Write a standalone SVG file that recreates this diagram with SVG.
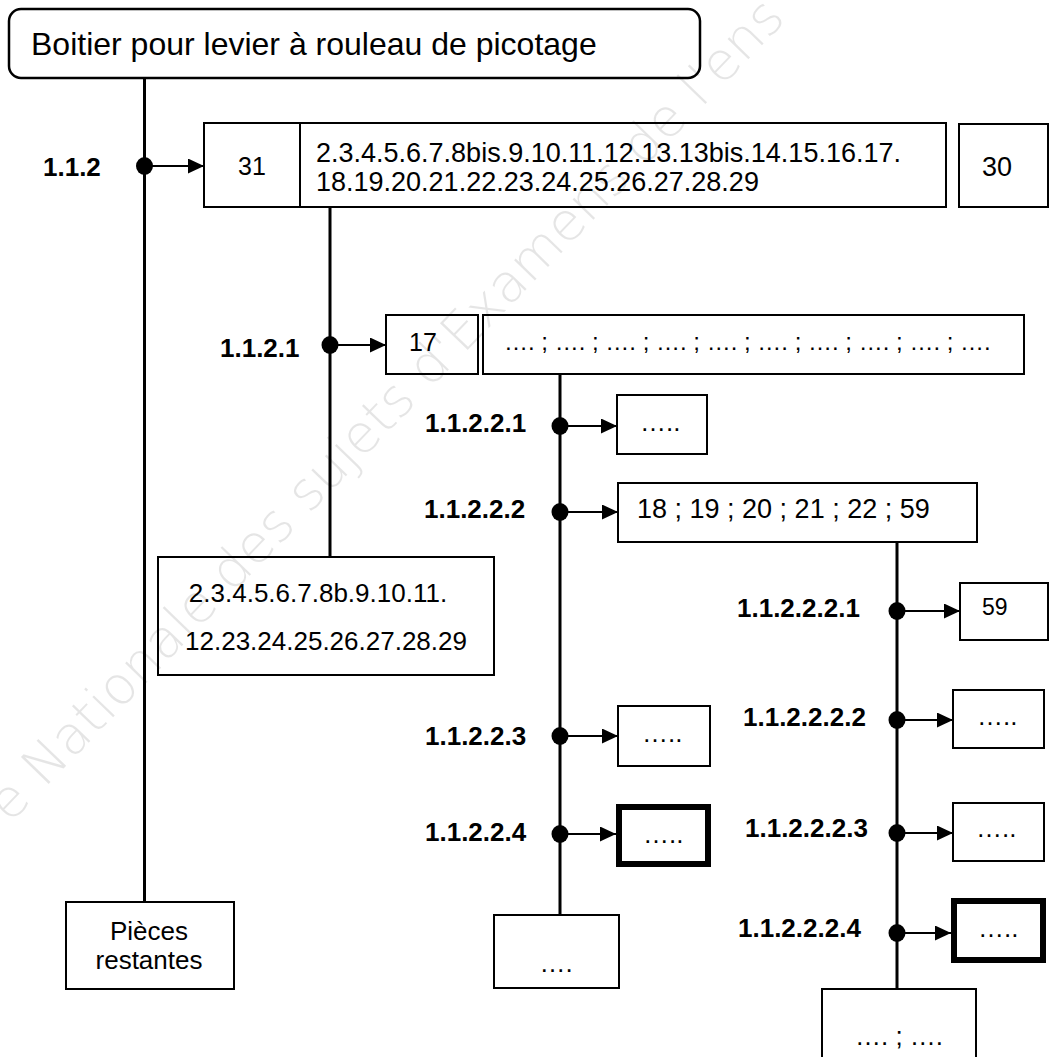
<svg xmlns="http://www.w3.org/2000/svg" width="1050" height="1057" viewBox="0 0 1050 1057">
<defs>
<marker id="ah" markerUnits="userSpaceOnUse" markerWidth="16" markerHeight="16" refX="16" refY="7.5" orient="auto">
<path d="M0,0 L16,7.5 L0,15 Z" fill="#000"/>
</marker>
<style>
.box{fill:#fff;stroke:#000;stroke-width:2}
.thick{fill:#fff;stroke:#000;stroke-width:6}
.t{font-family:"Liberation Sans",Arial,sans-serif;fill:#000;font-size:26px}
.c{text-anchor:middle}
.lbl{font-family:"Liberation Sans",Arial,sans-serif;font-weight:bold;font-size:26px;fill:#000}
.vl{stroke:#000;stroke-width:3;fill:none}
.arr{stroke:#000;stroke-width:2;fill:none;marker-end:url(#ah)}
.dot{fill:#000}
.wm{font-family:"DejaVu Sans",sans-serif;font-weight:200;font-size:53px;fill:#000;fill-opacity:0.1}
</style>
</defs>
<rect width="1050" height="1057" fill="#fff"/>

<g id="connectors">
<path class="vl" d="M144.5,78 V902"/>
<path class="vl" d="M330,207 V557"/>
<path class="vl" d="M560,374 V915"/>
<path class="vl" d="M897,542 V989"/>
<path class="arr" d="M144.5,166 H204"/>
<path class="arr" d="M330,345 H386"/>
<path class="arr" d="M560,426 H617"/>
<path class="arr" d="M560,512 H618"/>
<path class="arr" d="M897,611 H960"/>
<path class="arr" d="M897,720 H953"/>
<path class="arr" d="M560,736 H618"/>
<path class="arr" d="M560,834 H616"/>
<path class="arr" d="M897,833 H953"/>
<path class="arr" d="M897,933 H951"/>
<ellipse class="dot" cx="144.5" cy="166" rx="8.5" ry="9"/>
<ellipse class="dot" cx="330" cy="345" rx="8.5" ry="9"/>
<ellipse class="dot" cx="560" cy="426" rx="8.5" ry="9"/>
<ellipse class="dot" cx="560" cy="512" rx="8.5" ry="9"/>
<ellipse class="dot" cx="897" cy="611" rx="8.5" ry="9"/>
<ellipse class="dot" cx="897" cy="720" rx="8.5" ry="9"/>
<ellipse class="dot" cx="560" cy="736" rx="8.5" ry="9"/>
<ellipse class="dot" cx="560" cy="834" rx="8.5" ry="9"/>
<ellipse class="dot" cx="897" cy="833" rx="8.5" ry="9"/>
<ellipse class="dot" cx="897" cy="933" rx="8.5" ry="9"/>
</g>

<g id="labels">
<text class="lbl" x="43" y="176">1.1.2</text>
<text class="lbl" x="220" y="357">1.1.2.1</text>
<text class="lbl" x="425" y="432">1.1.2.2.1</text>
<text class="lbl" x="424" y="518">1.1.2.2.2</text>
<text class="lbl" x="737" y="617">1.1.2.2.2.1</text>
<text class="lbl" x="743" y="726">1.1.2.2.2.2</text>
<text class="lbl" x="425" y="745">1.1.2.2.3</text>
<text class="lbl" x="425" y="841">1.1.2.2.4</text>
<text class="lbl" x="745" y="837">1.1.2.2.2.3</text>
<text class="lbl" x="738" y="937">1.1.2.2.2.4</text>
</g>

<g id="title">
<rect x="9" y="9" width="691" height="69" rx="12" fill="#fff" stroke="#000" stroke-width="2.5"/>
<text class="t" x="31" y="55" style="font-size:32px">Boitier pour levier à rouleau de picotage</text>
</g>
<g id="n31">
<rect class="box" x="204" y="123" width="96" height="84"/>
<text class="t c" x="252" y="175" style="font-size:25px">31</text>
</g>
<g id="nlist">
<rect class="box" x="300" y="123" width="646" height="84"/>
<text class="t" x="316" y="162" style="font-size:27px">2.3.4.5.6.7.8bis.9.10.11.12.13.13bis.14.15.16.17.</text>
<text class="t" x="316" y="191" style="font-size:27px">18.19.20.21.22.23.24.25.26.27.28.29</text>
</g>
<g id="n30">
<rect class="box" x="959" y="124" width="89" height="83"/>
<text class="t c" x="997" y="176" style="font-size:27px">30</text>
</g>
<g id="n17">
<rect class="box" x="386" y="315" width="92" height="59"/>
<text class="t" x="409" y="351" style="font-size:25px">17</text>
</g>
<g id="ndots">
<rect class="box" x="483" y="315" width="541" height="59"/>
<text class="t" x="504" y="350" style="font-size:24px">…. ; …. ; …. ; …. ; …. ; …. ; …. ; …. ; …. ; ….</text>
</g>
<g id="nleft">
<rect class="box" x="158" y="557" width="336" height="118"/>
<text class="t c" x="318" y="602">2.3.4.5.6.7.8b.9.10.11.</text>
<text class="t c" x="326" y="650">12.23.24.25.26.27.28.29</text>
</g>
<g id="n11221">
<rect class="box" x="617" y="395" width="90" height="59"/>
<text class="t" x="640" y="431">…..</text>
</g>
<g id="n11222">
<rect class="box" x="618" y="483" width="359" height="59"/>
<text class="t" x="637" y="518" style="font-size:27px">18 ; 19 ; 20 ; 21 ; 22 ; 59</text>
</g>
<g id="n112221">
<rect class="box" x="960" y="583" width="88" height="57"/>
<text class="t" x="982" y="615" style="font-size:23px">59</text>
</g>
<g id="n112222">
<rect class="box" x="953" y="690" width="91" height="58"/>
<text class="t" x="977" y="725">…..</text>
</g>
<g id="n11223">
<rect class="box" x="618" y="706" width="92" height="60"/>
<text class="t" x="642" y="742">…..</text>
</g>
<g id="n11224">
<rect class="thick" x="619" y="807" width="89" height="57"/>
<text class="t" x="643" y="843">…..</text>
</g>
<g id="n112223">
<rect class="box" x="953" y="803" width="91" height="58"/>
<text class="t" x="976" y="837">…..</text>
</g>
<g id="n112224">
<rect class="thick" x="954" y="901" width="89" height="59"/>
<text class="t" x="978" y="937">…..</text>
</g>
<g id="nrest2">
<rect class="box" x="494" y="915" width="125" height="73"/>
<text class="t c" x="556" y="972">….</text>
</g>
<g id="nrest3">
<rect class="box" x="822" y="989" width="154" height="80"/>
<text class="t c" x="899" y="1045">…. ; ….</text>
</g>
<g id="nrest1">
<rect class="box" x="66" y="902" width="168" height="87"/>
<text class="t c" x="149" y="940">Pièces</text>
<text class="t c" x="149" y="969">restantes</text>
</g>

<text class="wm" transform="translate(10,824) rotate(-46)">e Nationale des sujets d'Examens de l'ens</text>
</svg>
